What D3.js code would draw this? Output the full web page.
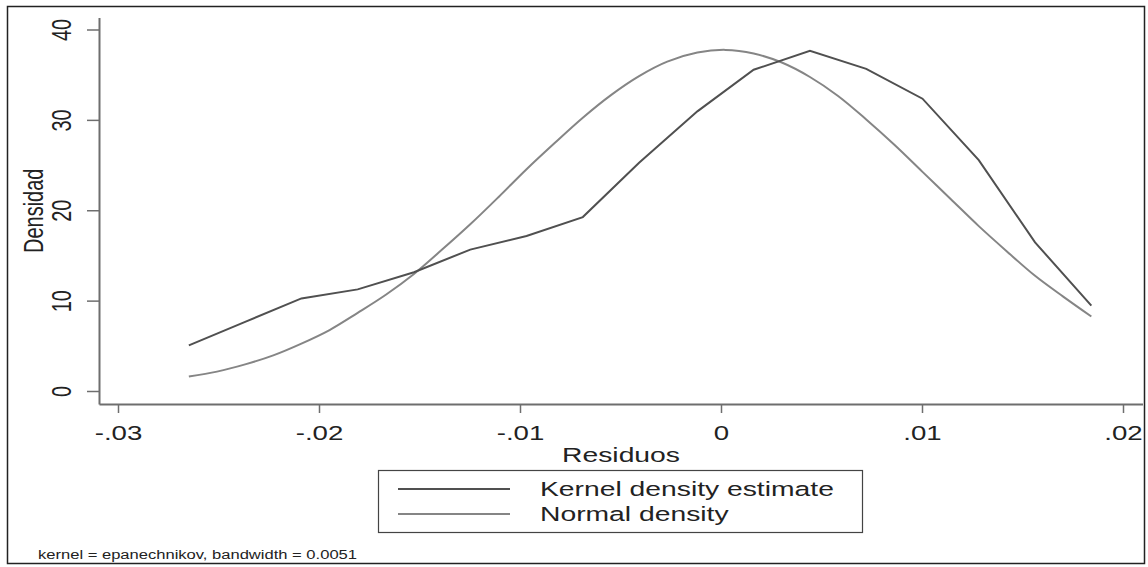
<!DOCTYPE html>
<html>
<head>
<meta charset="utf-8">
<script src="https://cdn.jsdelivr.net/npm/d3@7"></script>
<style>
  body { margin: 0; background: #fff; }
  svg { display: block; font-family: "Liberation Sans", Arial, sans-serif; }
</style>
</head>
<body>
<svg id="chart" width="1148" height="567"></svg>
<script>
// kernel density estimate, evaluated on Stata's grid
var gridX = [-0.0265, -0.0237, -0.0209, -0.0181, -0.0153, -0.0125, -0.0097, -0.0069, -0.0041,
             -0.0012, 0.0016, 0.0044, 0.0072, 0.0100, 0.0128, 0.0156, 0.0184];
var kernelY = [5.1, 7.7, 10.3, 11.3, 13.2, 15.7, 17.2, 19.3, 25.3,
               31.0, 35.6, 37.7, 35.7, 32.4, 25.6, 16.5, 9.5];

// normal density overlay (read on a finer grid)
var normalX = [-0.0265, -0.0251, -0.0237, -0.0223, -0.0209, -0.0195, -0.0181, -0.0167, -0.0153,
               -0.0139, -0.0125, -0.0111, -0.0097, -0.0083, -0.0069, -0.0055, -0.0041, -0.0027,
               -0.0012, 0.0002, 0.0016, 0.0030, 0.0044, 0.0058, 0.0072, 0.0086, 0.0100,
               0.0114, 0.0128, 0.0142, 0.0156, 0.0170, 0.0184];
var normalY = [1.65, 2.2, 3.0, 4.0, 5.3, 6.8, 8.7, 10.7, 13.0,
               15.7, 18.5, 21.5, 24.6, 27.5, 30.3, 32.8, 34.9, 36.5,
               37.5, 37.8, 37.4, 36.4, 34.8, 32.7, 30.1, 27.3, 24.3,
               21.3, 18.3, 15.5, 12.8, 10.5, 8.3];

var xTicks = [-0.03, -0.02, -0.01, 0, 0.01, 0.02];
var xTickLabels = ["-.03", "-.02", "-.01", "0", ".01", ".02"];
var yTicks = [0, 10, 20, 30, 40];
var xTitle = "Residuos";
var yTitle = "Densidad";
var legendLabels = ["Kernel density estimate", "Normal density"];
var note = "kernel = epanechnikov, bandwidth = 0.0051";

var kernelColor = "#505050", normalColor = "#858585", axisColor = "#6e6e6e";
var sx = 1.38; // the picture is stretched sideways

var svg = d3.select("#chart");

var x = d3.scaleLinear().domain([-0.03, 0.02]).range([118.5, 1123.5]);
var y = d3.scaleLinear().domain([0, 40]).range([391.5, 30]);

// outer frame
svg.append("rect")
    .attr("x", 7.5).attr("y", 6.5)
    .attr("width", 1137).attr("height", 557)
    .attr("fill", "none").attr("stroke", "#222").attr("stroke-width", 1.5);

function hText(g, str, px, py, size, anchor) {
    return g.append("text")
        .attr("transform", "translate(" + px + "," + py + ") scale(" + sx + ",1)")
        .attr("text-anchor", anchor || "middle")
        .attr("font-size", size)
        .attr("fill", "#222")
        .text(str);
}
function vText(g, str, px, py, size) {
    return g.append("text")
        .attr("transform", "translate(" + px + "," + py + ") scale(" + sx + ",1) rotate(-90)")
        .attr("text-anchor", "middle")
        .attr("font-size", size)
        .attr("fill", "#222")
        .text(str);
}

// y axis
var yAxis = svg.append("g");
yAxis.append("line")
    .attr("x1", 99.5).attr("x2", 99.5).attr("y1", 18).attr("y2", 404.5)
    .attr("stroke", axisColor).attr("stroke-width", 2);
yTicks.forEach(function(t) {
    yAxis.append("line")
        .attr("x1", 87).attr("x2", 99.5).attr("y1", y(t)).attr("y2", y(t))
        .attr("stroke", axisColor).attr("stroke-width", 1.5);
    vText(yAxis, t, 71, y(t), 20);
});
vText(svg, yTitle, 43, y(20), 20);

// x axis
var xAxis = svg.append("g");
xAxis.append("line")
    .attr("x1", 99.5).attr("x2", 1143).attr("y1", 404.5).attr("y2", 404.5)
    .attr("stroke", axisColor).attr("stroke-width", 2);
xTicks.forEach(function(t, i) {
    xAxis.append("line")
        .attr("x1", x(t)).attr("x2", x(t)).attr("y1", 404.5).attr("y2", 413)
        .attr("stroke", axisColor).attr("stroke-width", 1.5);
    hText(xAxis, xTickLabels[i], x(t), 440, 20);
});
hText(svg, xTitle, (x(-0.03) + x(0.02)) / 2, 462, 20.5);

// curves
var kernelLine = d3.line()
    .x(function(d, i) { return x(gridX[i]); })
    .y(function(d) { return y(d); });
var normalLine = d3.line()
    .x(function(d, i) { return x(normalX[i]); })
    .y(function(d) { return y(d); })
    .curve(d3.curveCatmullRom);

svg.append("path")
    .attr("d", normalLine(normalY))
    .attr("fill", "none").attr("stroke", normalColor).attr("stroke-width", 2);
svg.append("path")
    .attr("d", kernelLine(kernelY))
    .attr("fill", "none").attr("stroke", kernelColor).attr("stroke-width", 2);

// legend
var legend = svg.append("g");
legend.append("rect")
    .attr("x", 378.5).attr("y", 470.5).attr("width", 484).attr("height", 62)
    .attr("fill", "#fff").attr("stroke", "#444").attr("stroke-width", 1.2);
[kernelColor, normalColor].forEach(function(c, i) {
    var ly = 489 + i * 25;
    legend.append("line")
        .attr("x1", 398).attr("x2", 510).attr("y1", ly).attr("y2", ly)
        .attr("stroke", c).attr("stroke-width", 2);
    hText(legend, legendLabels[i], 540, ly + 7, 20.5, "start");
});

// note
hText(svg, note, 38, 559, 12, "start");
</script>
</body>
</html>
